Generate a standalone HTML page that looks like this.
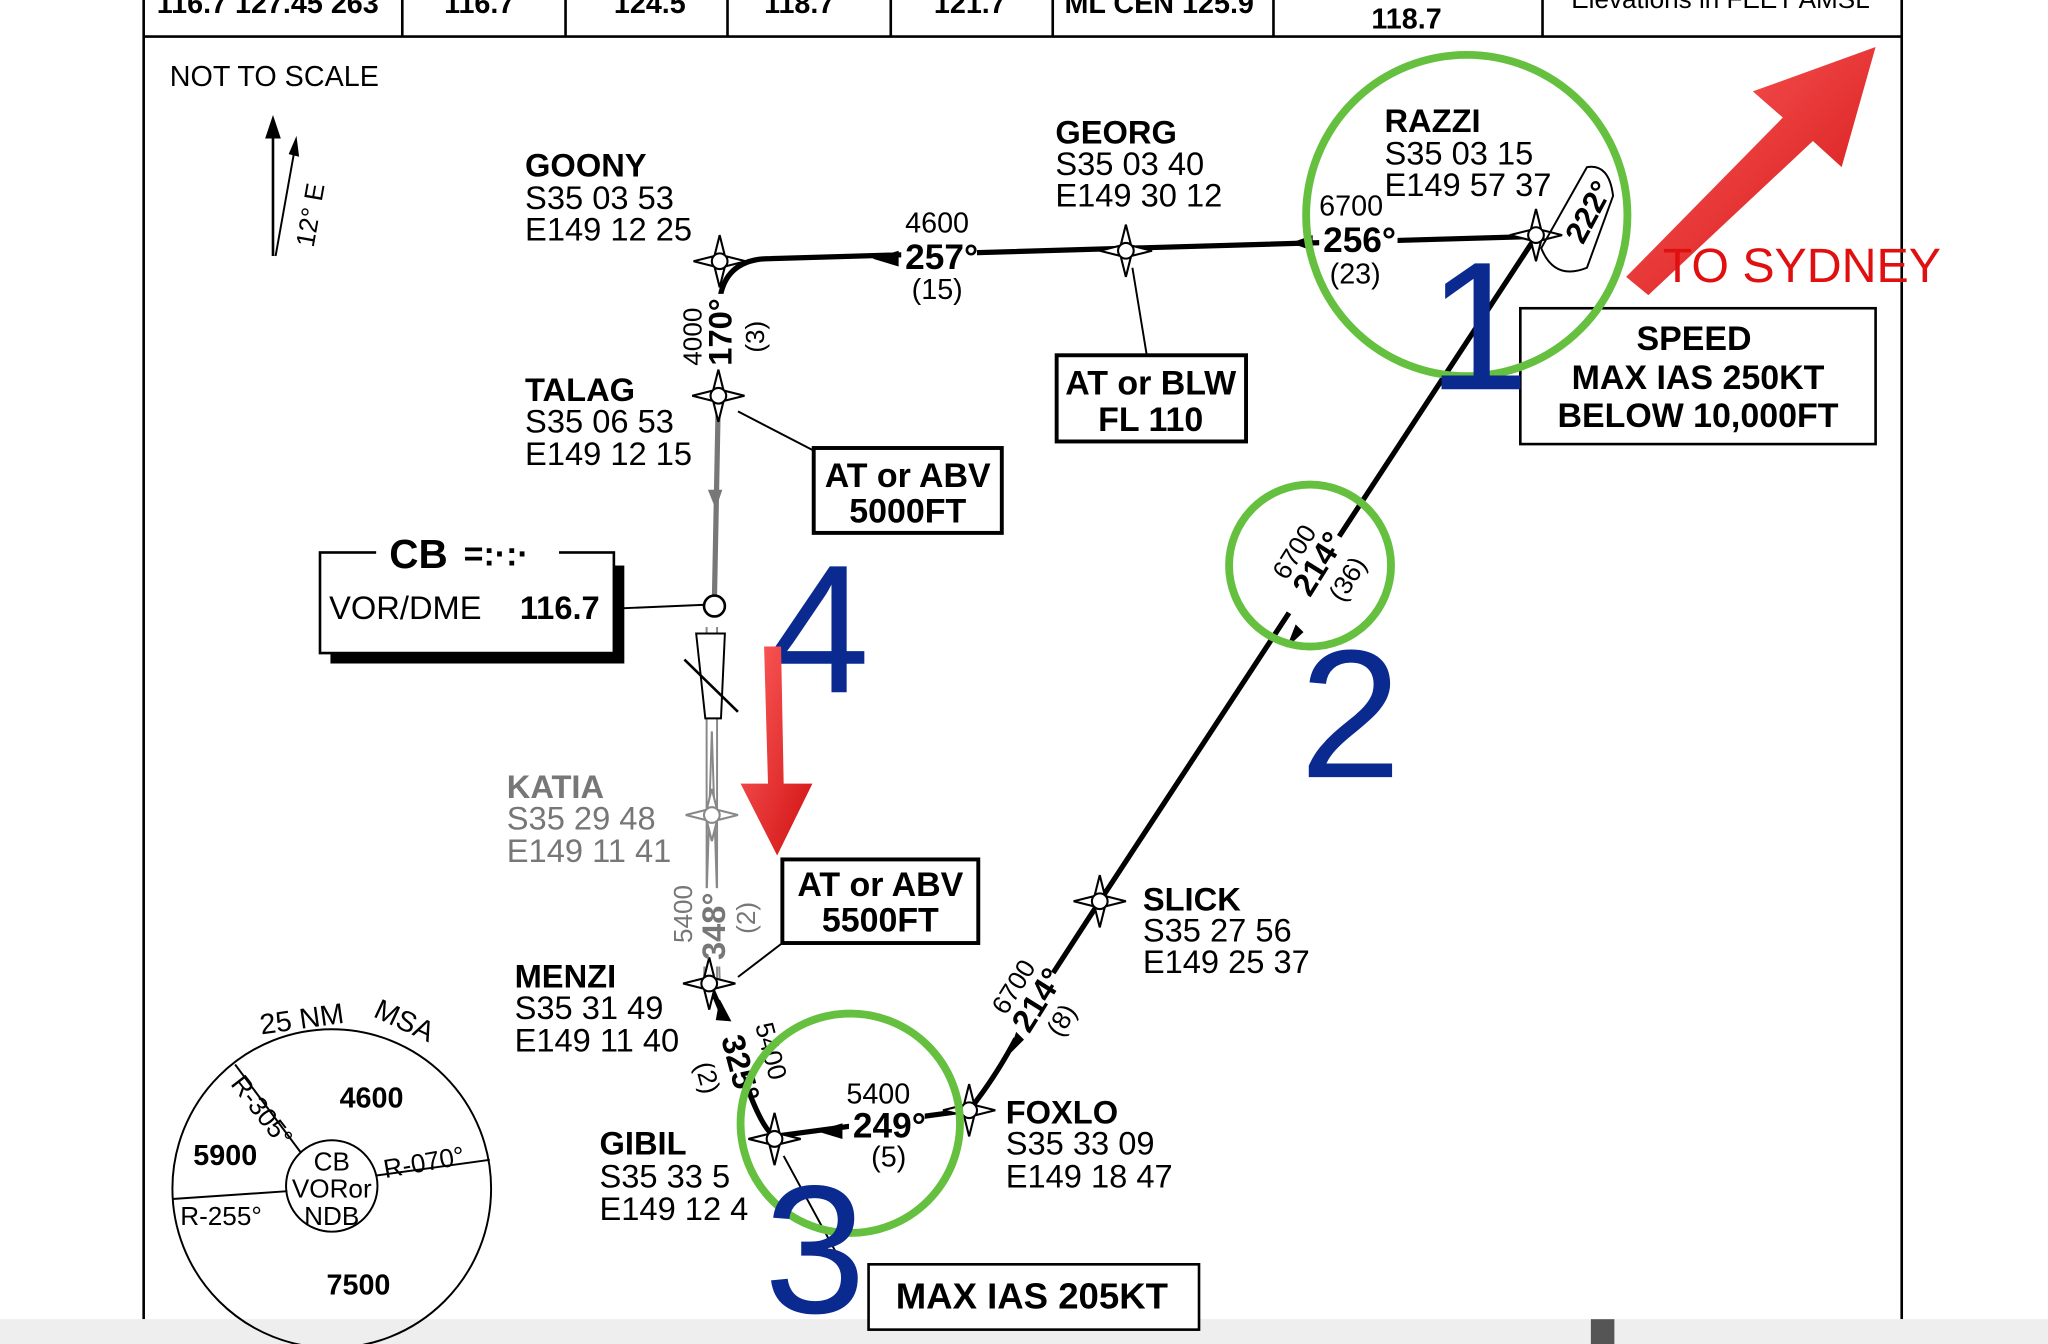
<!DOCTYPE html>
<html><head><meta charset="utf-8"><style>
html,body{margin:0;padding:0;background:#fff;width:2048px;height:1344px;overflow:hidden}
svg{display:block}
text{font-family:"Liberation Sans",sans-serif}
.b{font-weight:bold}
.k{fill:#000}
.g{fill:#777}
.n{fill:#0b2a90}
.r{fill:#e01010}
</style></head><body>
<svg width="2048" height="1344" viewBox="0 0 1568 1029" xmlns="http://www.w3.org/2000/svg">
<defs>
<g id="wp"><path d="M0,-20 L4,-4 L20,0 L4,4 L0,20 L-4,4 L-20,0 L-4,-4 Z" fill="#fff" stroke="#000" stroke-width="1.6"/><circle r="6" fill="#fff" stroke="#000" stroke-width="1.6"/></g>
<g id="wpg"><path d="M0,-20 L4,-4 L20,0 L4,4 L0,20 L-4,4 L-20,0 L-4,-4 Z" fill="#fff" stroke="#888" stroke-width="1.6"/><circle r="6" fill="#fff" stroke="#888" stroke-width="1.6"/></g>
<linearGradient id="rg" x1="0" y1="0" x2="1" y2="1"><stop offset="0" stop-color="#ff6060"/><stop offset="1" stop-color="#d01010"/></linearGradient>
</defs>
<g class="k">
<!-- header table -->
<g stroke="#000" stroke-width="2" fill="none">
<line x1="110" y1="28" x2="1456" y2="28"/>
<line x1="110" y1="0" x2="110" y2="1010"/><line x1="1456" y1="0" x2="1456" y2="1010"/>
<line x1="308" y1="0" x2="308" y2="28"/><line x1="433" y1="0" x2="433" y2="28"/><line x1="557" y1="0" x2="557" y2="28"/><line x1="682" y1="0" x2="682" y2="28"/><line x1="806" y1="0" x2="806" y2="28"/><line x1="975" y1="0" x2="975" y2="28"/><line x1="1181" y1="0" x2="1181" y2="28"/>
</g>
<g font-size="22">
<text x="120" y="10" class="b">116.7 127.45 263</text><text x="340" y="10" class="b">116.7</text><text x="470" y="10" class="b">124.5</text><text x="585" y="10" class="b">118.7</text><text x="715" y="10" class="b">121.7</text><text x="815" y="10" class="b">ML CEN 125.9</text><text x="1050" y="22" class="b">118.7</text>
</g>
<text x="1203" y="6" font-size="20">Elevations in FEET AMSL</text>
<!-- bottom bar -->
<rect x="0" y="1010" width="1568" height="19" fill="#eeeeee"/><rect x="1218" y="1010" width="18" height="19" fill="#555"/>
<text x="130" y="66" font-size="22">NOT TO SCALE</text>
<!-- north arrow -->
<line x1="209" y1="196" x2="209" y2="100" stroke="#000" stroke-width="2"/><path d="M203,106 L209,88 L215,106Z"/>
<line x1="211" y1="196" x2="226" y2="112" stroke="#000" stroke-width="1.5"/><path d="M221,118 L227,104 L229,120Z"/>
<text transform="translate(240,190) rotate(-80)" font-size="20">12° E</text>
<!-- routes -->
<g fill="none" stroke="#000" stroke-width="4">
<path d="M551,230 Q555,198 590,198 L1176,181"/>
<path d="M1176,181 L842,690 L790,770 Q770,815 742,850 L593,870"/>
<path d="M543,753 Q560,790 575,840 Q585,865 593,870"/>
</g>
<line x1="550" y1="303" x2="547" y2="458" stroke="#777" stroke-width="4"/>
<path d="M542,375 L548,390 L553,375Z" fill="#777"/>
<g stroke="#888" stroke-width="1.5" fill="none"><line x1="541" y1="480" x2="541" y2="750"/><line x1="549" y1="480" x2="549" y2="750"/><line x1="545" y1="560" x2="539" y2="750"/><line x1="545" y1="560" x2="551" y2="750"/></g>
<path d="M533,485 L555,485 L552,550 L540,550Z" fill="#fff" stroke="#000" stroke-width="1.5"/>
<line x1="524" y1="505" x2="565" y2="545" stroke="#000" stroke-width="2"/>
<!-- label backgrounds -->
<g fill="#fff">
<rect x="690" y="182" width="58" height="28"/><rect x="1010" y="168" width="60" height="28"/>
<rect x="650" y="848" width="58" height="26"/>
<rect x="538" y="225" width="26" height="58"/><rect x="532" y="680" width="26" height="60"/>
<rect x="975" y="398" width="40" height="70" transform="rotate(32 995 433)"/>
<rect x="773" y="738" width="28" height="58" transform="rotate(32 787 767)"/>
<rect x="548" y="780" width="26" height="58" transform="rotate(-15 561 809)"/>
</g>
<!-- arrowheads -->
<path d="M668,198 L688,192 L688,204Z"/><path d="M988,186 L1005,180 L1005,192Z"/><path d="M985,496 L992,478 L998,484Z"/><path d="M772,808 L778,790 L784,796Z"/><path d="M625,866 L645,860 L645,872Z"/><path d="M551,765 L560,782 L548,781Z"/>
<!-- waypoints -->
<use href="#wp" x="551" y="200"/><use href="#wp" x="862" y="192"/><use href="#wp" x="1176" y="180"/><use href="#wp" x="550" y="303"/><use href="#wpg" x="545" y="624"/><use href="#wp" x="543" y="753"/><use href="#wp" x="593" y="872"/><use href="#wp" x="742" y="850"/><use href="#wp" x="842" y="690"/>
<circle cx="547" cy="464" r="8" fill="#fff" stroke="#000" stroke-width="2"/>
<!-- leader lines -->
<g stroke="#000" stroke-width="1.5"><line x1="867" y1="205" x2="878" y2="272"/><line x1="565" y1="315" x2="623" y2="345"/><line x1="470" y1="466" x2="540" y2="463"/><line x1="565" y1="748" x2="599" y2="722"/><line x1="600" y1="885" x2="645" y2="968"/></g>
<!-- waypoint labels -->
<g font-size="25">
<text x="402" y="135" class="b">GOONY</text><text x="402" y="160">S35 03 53</text><text x="402" y="184">E149 12 25</text>
<text x="808" y="110" class="b">GEORG</text><text x="808" y="134">S35 03 40</text><text x="808" y="158">E149 30 12</text>
<text x="1060" y="101" class="b">RAZZI</text><text x="1060" y="126">S35 03 15</text><text x="1060" y="150">E149 57 37</text>
<text x="402" y="307" class="b">TALAG</text><text x="402" y="331">S35 06 53</text><text x="402" y="356">E149 12 15</text>
<text x="388" y="611" class="b g">KATIA</text><text x="388" y="635" class="g">S35 29 48</text><text x="388" y="660" class="g">E149 11 41</text>
<text x="394" y="756" class="b">MENZI</text><text x="394" y="780">S35 31 49</text><text x="394" y="805">E149 11 40</text>
<text x="459" y="884" class="b">GIBIL</text><text x="459" y="909">S35 33 5</text><text x="459" y="934">E149 12 4</text>
<text x="770" y="860" class="b">FOXLO</text><text x="770" y="884">S35 33 09</text><text x="770" y="909">E149 18 47</text>
<text x="875" y="697" class="b">SLICK</text><text x="875" y="721">S35 27 56</text><text x="875" y="745">E149 25 37</text>
</g>
<!-- leg labels -->
<text x="693" y="178" font-size="22">4600</text><text x="693" y="206" font-size="27" class="b">257°</text><text x="698" y="229" font-size="22">(15)</text>
<text x="1010" y="165" font-size="22">6700</text><text x="1013" y="193" font-size="27" class="b">256°</text><text x="1018" y="217" font-size="22">(23)</text>
<text transform="translate(1212,188) rotate(-62)" font-size="24" class="b">222°</text>
<path d="M1180,190 Q1190,215 1215,205 L1235,150 Q1232,125 1215,128Z" fill="none" stroke="#000" stroke-width="1.5"/>
<text transform="translate(537,280) rotate(-90)" font-size="20">4000</text><text transform="translate(560,280) rotate(-90)" font-size="25" class="b">170°</text><text transform="translate(585,270) rotate(-90)" font-size="20">(3)</text>
<text transform="translate(985,445) rotate(-58)" font-size="20">6700</text><text transform="translate(1003,458) rotate(-58)" font-size="25" class="b">214°</text><text transform="translate(1028,462) rotate(-58)" font-size="20">(36)</text>
<text transform="translate(770,778) rotate(-58)" font-size="20">6700</text><text transform="translate(788,792) rotate(-58)" font-size="25" class="b">214°</text><text transform="translate(812,795) rotate(-58)" font-size="20">(8)</text>
<text transform="translate(530,722) rotate(-90)" font-size="20" class="g">5400</text><text transform="translate(555,735) rotate(-90)" font-size="25" class="b g">348°</text><text transform="translate(578,715) rotate(-90)" font-size="20" class="g">(2)</text>
<text transform="translate(552,795) rotate(75)" font-size="25" class="b">325°</text><text transform="translate(578,785) rotate(75)" font-size="20">5400</text><text transform="translate(532,815) rotate(75)" font-size="20">(2)</text>
<text x="648" y="845" font-size="22">5400</text><text x="653" y="871" font-size="27" class="b">249°</text><text x="667" y="893" font-size="22">(5)</text>
<!-- boxes -->
<g fill="#fff" stroke="#000" stroke-width="3">
<rect x="809" y="272" width="145" height="66"/><rect x="623" y="343" width="144" height="65"/><rect x="1164" y="236" width="272" height="104" stroke-width="2"/><rect x="599" y="658" width="150" height="64"/><rect x="665" y="968" width="253" height="50" stroke-width="2"/>
</g>
<g font-size="26" text-anchor="middle">
<text x="881" y="302" class="b">AT or BLW</text><text x="881" y="330" class="b">FL 110</text>
<text x="695" y="373" class="b">AT or ABV</text><text x="695" y="400" class="b">5000FT</text>
<text x="1297" y="268" class="b">SPEED</text><text x="1300" y="298" class="b">MAX IAS 250KT</text><text x="1300" y="327" class="b">BELOW 10,000FT</text>
<text x="674" y="686" class="b">AT or ABV</text><text x="674" y="713" class="b">5500FT</text>
<text x="790" y="1002" font-size="28" class="b">MAX IAS 205KT</text>
</g>
<!-- VOR box -->
<rect x="253" y="433" width="225" height="75" fill="#000"/>
<rect x="245" y="423" width="225" height="77" fill="#fff" stroke="#000" stroke-width="2"/>
<rect x="288" y="414" width="140" height="20" fill="#fff"/>
<text x="298" y="435" font-size="31" class="b">CB</text><text x="355" y="433" font-size="26" class="b">=:·:·</text>
<text x="252" y="474" font-size="25">VOR/DME</text><text x="398" y="474" font-size="25" class="b">116.7</text>
<!-- MSA -->
<circle cx="254" cy="910" r="122" fill="none" stroke="#000" stroke-width="1.5"/>
<circle cx="254" cy="908" r="35" fill="#fff" stroke="#000" stroke-width="1.5"/>
<g stroke="#000" stroke-width="1.5"><line x1="180" y1="815" x2="230" y2="882"/><line x1="132" y1="918" x2="220" y2="912"/><line x1="288" y1="900" x2="375" y2="888"/></g>
<text x="254" y="896" font-size="20" text-anchor="middle">CB</text><text x="254" y="917" font-size="20" text-anchor="middle">VORor</text><text x="254" y="938" font-size="20" text-anchor="middle">NDB</text>
<text x="260" y="848" font-size="22" class="b">4600</text><text x="148" y="892" font-size="22" class="b">5900</text><text x="250" y="991" font-size="22" class="b">7500</text>
<text transform="translate(176,830) rotate(52)" font-size="20">R-305°</text><text x="138" y="938" font-size="20">R-255°</text><text transform="translate(295,902) rotate(-10)" font-size="20">R-070°</text>
<text transform="translate(200,792) rotate(-8)" font-size="22">25 NM</text><text transform="translate(285,778) rotate(25)" font-size="22">MSA</text>
</g>
<!-- green circles -->
<g fill="none" stroke="#66c040" stroke-width="6"><circle cx="1123" cy="165" r="123"/><circle cx="1003" cy="433" r="62"/><circle cx="651" cy="860" r="84"/></g>
<!-- numbers -->
<g font-size="140"><text x="1093" y="298" class="n">1</text><text x="995" y="595" class="n">2</text><text x="585" y="1005" class="n">3</text><text x="588" y="530" class="n">4</text></g>
<!-- red arrows -->
<path d="M1245,212 L1365,90 L1342,70 L1436,36 L1410,128 L1388,108 L1262,226Z" fill="url(#rg)"/>
<path d="M585,495 L598,495 L600,600 L622,600 L595,655 L567,600 L588,600Z" fill="url(#rg)"/>
<text x="1273" y="216" font-size="37" class="r">TO SYDNEY</text>
</svg>
</body></html>
